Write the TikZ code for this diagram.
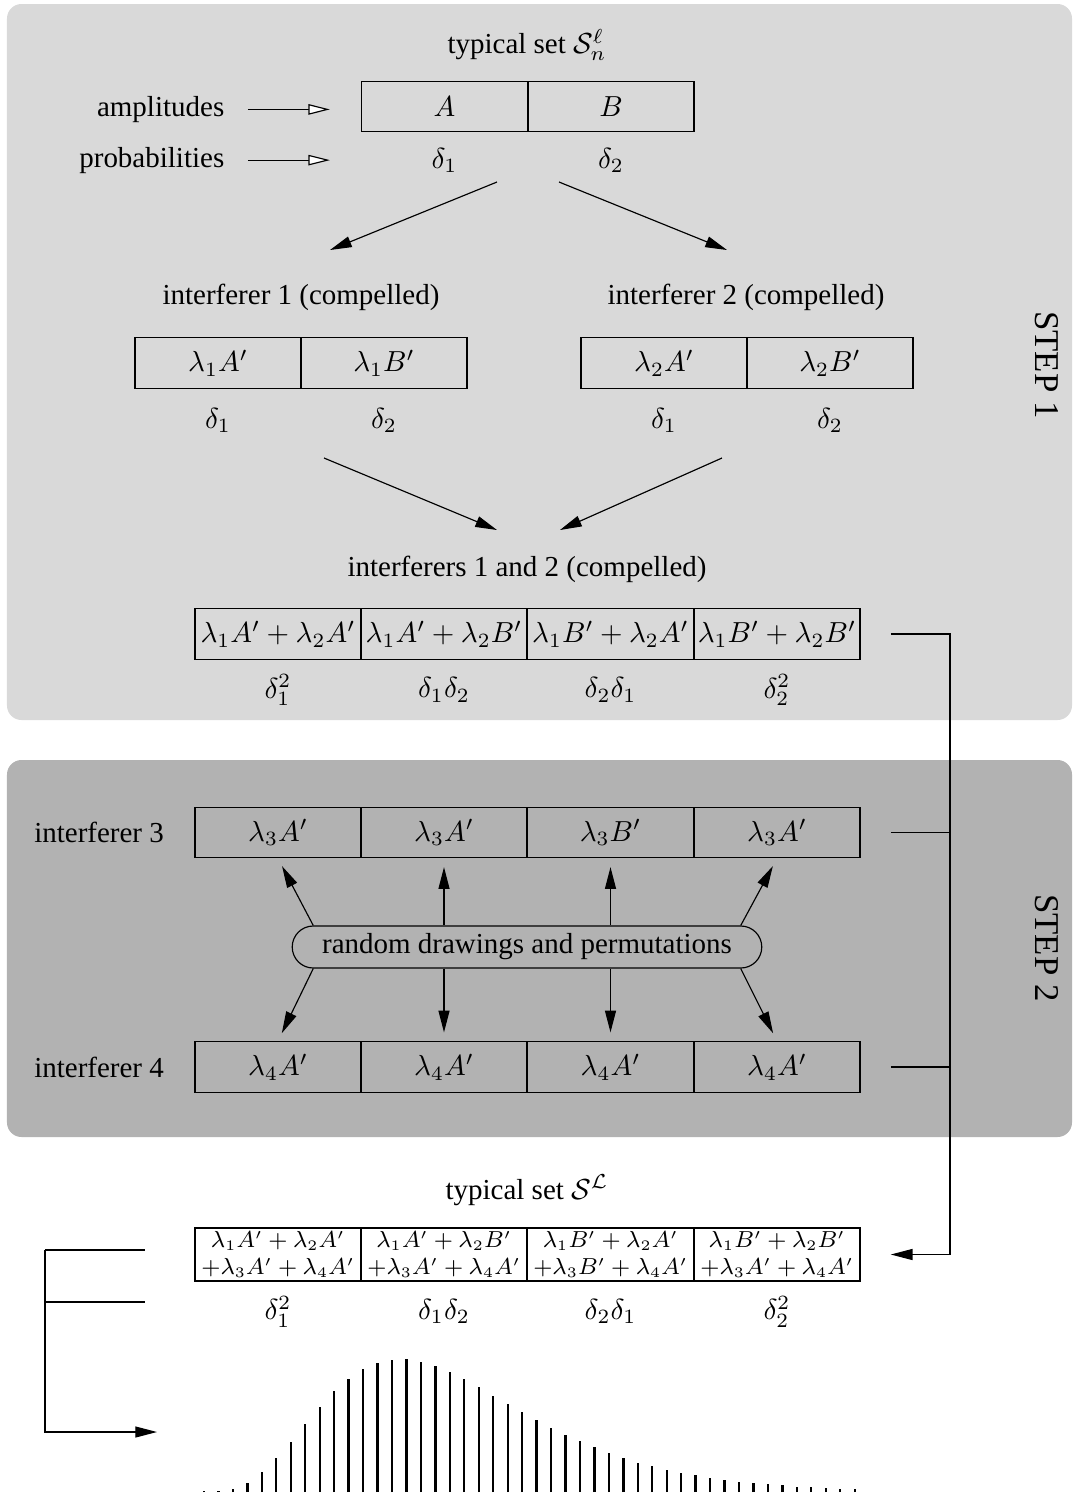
\documentclass[tikz,border=0pt]{standalone}
\usepackage[no-math]{fontspec}
\setmainfont{Liberation Serif}
\usetikzlibrary{arrows.meta,positioning,shapes.misc}

\def\cellw{57.3pt}
\def\cellh{17.5pt}

\begin{document}
\begin{tikzpicture}[x=0.345pt,y=-0.345pt,-{Triangle[length=7.5pt,width=3.8pt]},draw=black,node distance=19.7pt]
        \tikzstyle{cell}=[rectangle,draw,minimum width=\cellw,minimum height=\cellh,inner sep=0pt]
        \tikzstyle{small cell}=[cell,font=\fontsize{7.6}{9.4}\selectfont,align=center,minimum height=18.3pt]
        \tikzstyle{hollow}=[-{Triangle[length=7.4pt,width=3.6pt,fill=white]}]
        \tikzstyle{wire}=[-]
        \tikzstyle{panel}=[rounded corners=5pt]
        \tikzstyle{steplabel}=[rotate=-90,font=\large]
        \tikzstyle{bar}=[-,line width=0.8pt]

        \useasboundingbox (0,0) rectangle (1073,1494);

        % the two shaded steps
        \fill[panel,black!15] (7,4) rectangle (1072,720);
        \fill[panel,black!30] (7,760) rectangle (1072,1137);
        \node[steplabel] (step-1) at (1047,365) {STEP 1};
        \node[steplabel] (step-2) at (1047,948) {STEP 2};

        % typical set
        \node (ts) at (527,45) {typical set $\mathcal{S}_n^\ell$};
        \foreach \name / \x / \lab in {1/444.5/A,2/611/B}
            \node[cell] (AB-\name) at (\x,106.5) {$\lab$};
        \foreach \name in {1,2}
            \node[below of=AB-\name, node distance=18.5pt] (pAB-\name) {$\delta_\name$};

        \node[left=43.6pt of AB-1,yshift=-1pt] (amp) {amplitudes};
        \node[anchor=east] (prob) at (amp.east |- pAB-1) {probabilities};
        \draw[hollow,shorten <=4.6pt,shorten >=10.7pt] (amp.east) -- (amp.east -| AB-1.west);
        \draw[hollow,shorten <=4.6pt,shorten >=10.7pt] (prob.east) -- (prob.east -| AB-1.west);

        \coordinate (split-1) at (497,182);
        \coordinate (split-2) at (559,182);
        \coordinate (to-1) at (330,250);
        \coordinate (to-2) at (727,250);
        \draw (split-1) -- (to-1);
        \draw (split-2) -- (to-2);

        % interferers 1 and 2
        \node (ia) at (301,297) {interferer 1 (compelled)};
        \node (ib) at (746,297) {interferer 2 (compelled)};
        \foreach \name / \x / \lab in {1/218/\lambda_1A',2/384/\lambda_1B'}
            \node[cell] (IA-\name) at (\x,363) {$\lab$};
        \foreach \name / \x / \lab in {1/664/\lambda_2A',2/830/\lambda_2B'}
            \node[cell] (IB-\name) at (\x,363) {$\lab$};
        \foreach \name in {1,2} {
            \node[below of=IA-\name] (pIA-\name) {$\delta_\name$};
            \node[below of=IB-\name] (pIB-\name) {$\delta_\name$};
        }

        \coordinate (from-1) at (324,458);
        \coordinate (from-2) at (722,458);
        \coordinate (merge-1) at (497,530);
        \coordinate (merge-2) at (560,530);
        \draw (from-1) -- (merge-1);
        \draw (from-2) -- (merge-2);

        \node (ic) at (527,569) {interferers 1 and 2 (compelled)};
        \foreach \name / \x / \lab / \p in {1/278/\lambda_1A'+\lambda_2A'/\delta_1^2,
                                          2/444/\lambda_1A'+\lambda_2B'/\delta_1\delta_2,
                                          3/610.5/\lambda_1B'+\lambda_2A'/\delta_2\delta_1,
                                          4/777/\lambda_1B'+\lambda_2B'/\delta_2^2} {
            \node[cell] (IC-\name) at (\x,634) {$\lab$};
            \node[below of=IC-\name, node distance=19.3pt] (pIC-\name) {$\p$};
        }

        % interferers 3 and 4
        \foreach \name / \x / \lab in {1/278/A',2/444/A',3/610.5/B',4/777/A'}
            \node[cell] (I3-\name) at (\x,832.5) {$\lambda_3\lab$};
        \foreach \name / \x in {1/278,2/444,3/610.5,4/777}
            \node[cell] (I4-\name) at (\x,1067) {$\lambda_4A'$};
        \node[left=7pt of I3-1] (i3) {interferer 3};
        \node[left=7pt of I4-1] (i4) {interferer 4};

        \node[rounded rectangle,draw,minimum width=162pt,minimum height=14.5pt,inner sep=0pt]
            (rdp) at (527,947) {random drawings and permutations};
        \foreach \cell / \anc in {1/west,4/east} {
            \draw[shorten >=3pt] (rdp.north \anc) -- (I3-\cell.south);
            \draw[shorten >=3pt] (rdp.south \anc) -- (I4-\cell.north);
        }
        \foreach \cell in {2,3} {
            \draw[shorten >=3pt] (rdp.north -| I3-\cell) -- (I3-\cell.south);
            \draw[shorten >=3pt] (rdp.south -| I4-\cell) -- (I4-\cell.north);
        }

        % resulting typical set
        \node (tS) at (527,1190) {typical set $\mathcal{S}^{\mathcal{L}}$};
        \foreach \name / \x / \fst / \snd / \p in {1/278/\lambda_1A'+\lambda_2A'/+\lambda_3A'+\lambda_4A'/\delta_1^2,
                                                2/444/\lambda_1A'+\lambda_2B'/+\lambda_3A'+\lambda_4A'/\delta_1\delta_2,
                                                3/610.5/\lambda_1B'+\lambda_2A'/+\lambda_3B'+\lambda_4A'/\delta_2\delta_1,
                                                4/777/\lambda_1B'+\lambda_2B'/+\lambda_3A'+\lambda_4A'/\delta_2^2} {
            \node[small cell] (S-\name) at (\x,1254.5) {$\fst$\\$\snd$};
            \node[below of=S-\name, node distance=19.7pt] (pS-\name) {$\p$};
        }

        % collecting the interferers
        \coordinate (bus) at (950,634);
        \draw[shorten <=10.4pt,shorten >=10.4pt] (IC-4.east) -- (bus) |- (S-4.east);
        \draw[wire,shorten <=10.4pt] (I3-4.east) -- (I3-4.east -| bus);
        \draw[wire,shorten <=10.4pt] (I4-4.east) -- (I4-4.east -| bus);

        % towards the histogram
        \coordinate (lb) at (45,1250);
        \coordinate (lm) at (45,1302);
        \coordinate (hist) at (157,1432);
        \draw[wire] (lb) -- ++(100,0);
        \draw[wire] (lm) -- ++(100,0);
        \draw (lb) |- (hist);

        \foreach \h [count=\i from 0] in {0.6,1.5,3,9,20,34,50,68,85,101,113,123,129,132,133,130,126,120,113,105,
                                          96,88,80,72,64,57,51,45,39,34,29,26,22,19,17,14,12,10,9,8,7,5,5,4,3,3}
            \draw[bar] (204+\i*14.46,1492) -- ++(0,-\h);
\end{tikzpicture}
\end{document}
